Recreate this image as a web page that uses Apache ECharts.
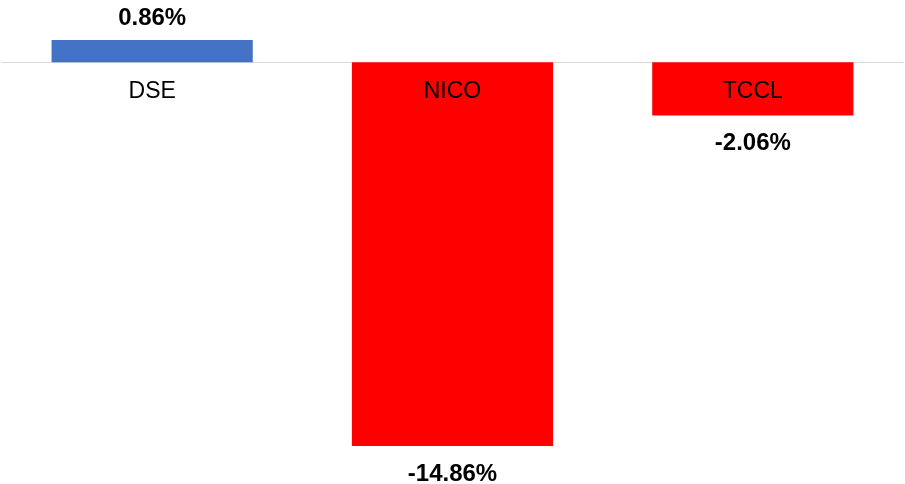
<!DOCTYPE html>
<html>
<head>
<meta charset="utf-8">
<script src="https://cdn.jsdelivr.net/npm/echarts@6/dist/echarts.min.js"></script>
<style>html,body{margin:0;padding:0;background:#fff}#c{width:905px;height:484px}</style>
</head>
<body>
<div id="c"></div>
<script>
const categories = ['DSE', 'NICO', 'TCCL'];
const values = [0.86, -14.86, -2.06];
const posColor = '#4472C4';
const negColor = '#FF0000';
const font = 'Liberation Sans, Arial, sans-serif';

const chart = echarts.init(document.getElementById('c'), null, {renderer: 'canvas'});
const data = values.map(v => ({
  value: v,
  itemStyle: {color: v >= 0 ? posColor : negColor},
  label: v >= 0 ? {position: 'top', distance: 10} : {position: 'bottom', distance: 16}
}));
chart.setOption({
  animation: false,
  backgroundColor: '#fff',
  grid: {left: 2, right: 2, top: 40, bottom: 38, containLabel: false},
  xAxis: {
    type: 'category',
    data: categories,
    axisLine: {onZero: true, lineStyle: {color: '#d9d9d9', width: 1}},
    axisTick: {show: false},
    axisLabel: {show: false}
  },
  yAxis: {
    type: 'value',
    min: v => v.min,
    max: v => v.max,
    show: false,
    splitLine: {show: false}
  },
  series: [{
    type: 'bar',
    data: data,
    barCategoryGap: '33%',
    label: {
      show: true,
      color: '#000',
      fontWeight: 'bold',
      fontSize: 24,
      fontFamily: font,
      formatter: p => p.value.toFixed(2) + '%'
    }
  }, {
    type: 'scatter',
    data: categories.map(c => [c, 0]),
    symbolSize: 0,
    z: 10,
    silent: true,
    itemStyle: {opacity: 1},
    label: {
      show: true,
      position: 'bottom',
      distance: 18,
      color: '#000',
      opacity: 1,
      fontSize: 23,
      fontFamily: font,
      formatter: p => p.value[0]
    }
  }]
});
</script>
</body>
</html>
